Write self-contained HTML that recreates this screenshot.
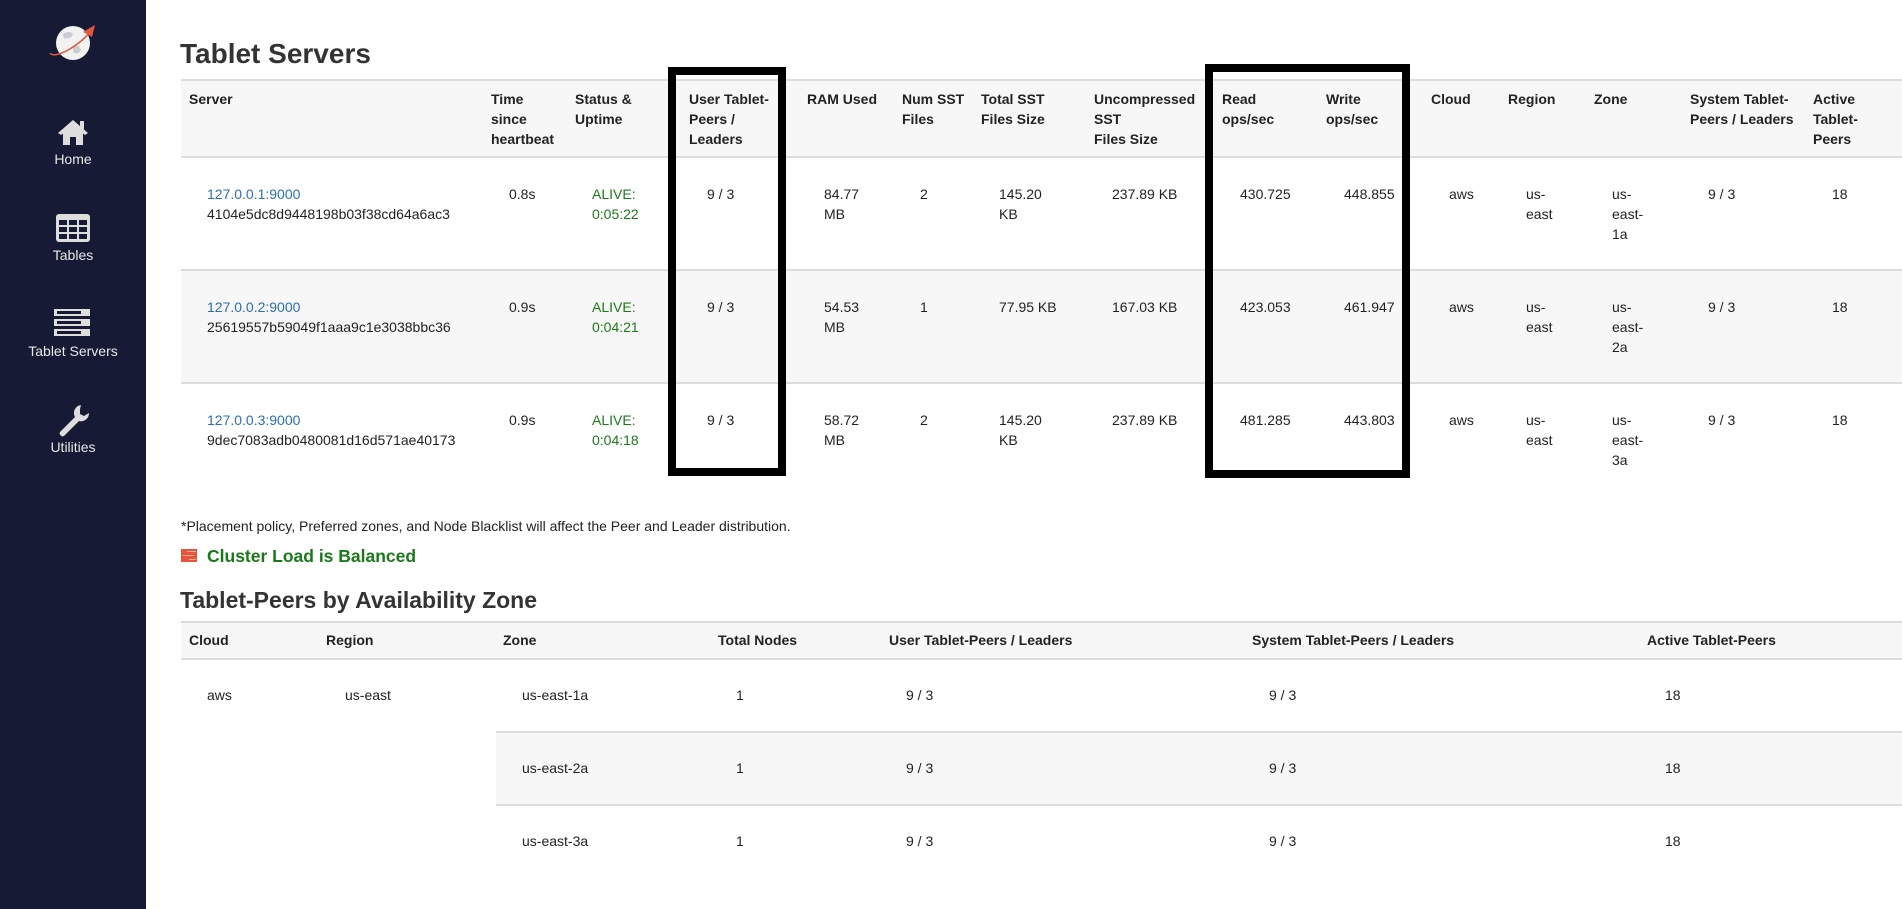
<!DOCTYPE html>
<html><head><meta charset="utf-8">
<style>
*{margin:0;padding:0;box-sizing:border-box}
body{width:1902px;height:909px;overflow:hidden;background:#fff;font-family:"Liberation Sans",Arial,sans-serif;color:#222;position:relative;font-size:14px}
.sb{position:absolute;left:0;top:0;width:146px;height:909px;background:#171a34}
.nl{position:absolute;width:146px;text-align:center;color:#e8e8e8;font-size:14px}
.a{position:absolute;white-space:nowrap;line-height:20px}
.b{font-weight:bold}
.bg{position:absolute;background:#f7f7f7}
.hl{position:absolute;height:2px;background:#ddd}
.lk{color:#2a6fb5}
.gr{color:#1a7a1a}
.box{position:absolute;border:8px solid #000}
</style></head><body>
<div class="sb"></div>
<svg style="position:absolute;left:45px;top:20px" width="56" height="45" viewBox="0 0 56 45">
<circle cx="28" cy="23" r="17" fill="#f2f2f2"/>
<path d="M18 14 q6-4 10 0 q-2 5 -6 4 q-4 2 -4-4z M28 26 q6-2 8 4 q-4 6-8 2z" fill="#c9cdd2"/>
<path d="M5 33 C 10 40 35 25 45 12" stroke="#e4573d" stroke-width="1.5" fill="none"/>
<path d="M38 12 L50 5 L47 17 Z" fill="#e4573d"/>
</svg>
<svg style="position:absolute;left:55px;top:118px" width="36" height="28" viewBox="0 0 36 28"><path d="M18 2 L33 15 L30 17 L28 15.5 V27 H21 V19 H15 V27 H8 V15.5 L6 17 L3 15Z" fill="#ddd"/><rect x="25" y="3" width="4" height="8" fill="#ddd"/></svg>
<div class="nl" style="top:151px">Home</div>
<svg style="position:absolute;left:55px;top:213px" width="36" height="30" viewBox="0 0 36 30"><rect x="1" y="1" width="34" height="28" rx="3" fill="#ddd"/><g fill="#171a34"><rect x="4" y="7" width="8" height="5"/><rect x="14" y="7" width="8" height="5"/><rect x="24" y="7" width="8" height="5"/><rect x="4" y="14" width="8" height="5"/><rect x="14" y="14" width="8" height="5"/><rect x="24" y="14" width="8" height="5"/><rect x="4" y="21" width="8" height="5"/><rect x="14" y="21" width="8" height="5"/><rect x="24" y="21" width="8" height="5"/></g></svg>
<div class="nl" style="top:247px">Tables</div>
<svg style="position:absolute;left:53px;top:308px" width="40" height="30" viewBox="0 0 40 30"><g fill="#ddd"><rect x="1" y="1" width="36" height="7"/><rect x="1" y="11" width="36" height="7"/><rect x="1" y="21" width="36" height="7"/></g><g fill="#171a34"><rect x="4" y="3" width="24" height="3"/><rect x="4" y="13" width="24" height="3"/><rect x="4" y="23" width="24" height="3"/></g></svg>
<div class="nl" style="top:343px">Tablet Servers</div>
<svg style="position:absolute;left:55px;top:403px" width="36" height="36" viewBox="0 0 36 36"><path d="M26 2 a8 8 0 0 0 -6 12 L5 29 a3 3 0 0 0 4 4 L24 18 a8 8 0 0 0 10 -8 l-5 3 l-4 -2 l0 -5z" fill="#ddd"/></svg>
<div class="nl" style="top:439px">Utilities</div>

<div class="a b" style="left:180px;top:35px;font-size:28px;line-height:38px;color:#333">Tablet Servers</div>

<div class="bg" style="left:181px;top:81px;width:1721px;height:76px"></div>
<div class="bg" style="left:181px;top:271px;width:1721px;height:112px"></div>
<div class="hl" style="left:181px;top:79px;width:1721px"></div>
<div class="hl" style="left:181px;top:156px;width:1721px"></div>
<div class="hl" style="left:181px;top:269px;width:1721px"></div>
<div class="hl" style="left:181px;top:382px;width:1721px"></div>

<div class="a b" style="left:189px;top:89px">Server</div>
<div class="a b" style="left:491px;top:89px">Time<br>since<br>heartbeat</div>
<div class="a b" style="left:575px;top:89px">Status &amp;<br>Uptime</div>
<div class="a b" style="left:689px;top:89px">User Tablet-<br>Peers /<br>Leaders</div>
<div class="a b" style="left:807px;top:89px">RAM Used</div>
<div class="a b" style="left:902px;top:89px">Num SST<br>Files</div>
<div class="a b" style="left:981px;top:89px">Total SST<br>Files Size</div>
<div class="a b" style="left:1094px;top:89px">Uncompressed<br>SST<br>Files Size</div>
<div class="a b" style="left:1222px;top:89px">Read<br>ops/sec</div>
<div class="a b" style="left:1326px;top:89px">Write<br>ops/sec</div>
<div class="a b" style="left:1431px;top:89px">Cloud</div>
<div class="a b" style="left:1508px;top:89px">Region</div>
<div class="a b" style="left:1594px;top:89px">Zone</div>
<div class="a b" style="left:1690px;top:89px">System Tablet-<br>Peers / Leaders</div>
<div class="a b" style="left:1813px;top:89px">Active<br>Tablet-<br>Peers</div>

<div class="a" style="left:207px;top:184px"><span class="lk">127.0.0.1:9000</span><br>4104e5dc8d9448198b03f38cd64a6ac3</div>
<div class="a" style="left:509px;top:184px">0.8s</div>
<div class="a gr" style="left:592px;top:184px">ALIVE:<br>0:05:22</div>
<div class="a" style="left:707px;top:184px">9 / 3</div>
<div class="a" style="left:824px;top:184px">84.77<br>MB</div>
<div class="a" style="left:920px;top:184px">2</div>
<div class="a" style="left:999px;top:184px">145.20<br>KB</div>
<div class="a" style="left:1112px;top:184px">237.89 KB</div>
<div class="a" style="left:1240px;top:184px">430.725</div>
<div class="a" style="left:1344px;top:184px">448.855</div>
<div class="a" style="left:1449px;top:184px">aws</div>
<div class="a" style="left:1526px;top:184px">us-<br>east</div>
<div class="a" style="left:1612px;top:184px">us-<br>east-<br>1a</div>
<div class="a" style="left:1708px;top:184px">9 / 3</div>
<div class="a" style="left:1832px;top:184px">18</div>

<div class="a" style="left:207px;top:297px"><span class="lk">127.0.0.2:9000</span><br>25619557b59049f1aaa9c1e3038bbc36</div>
<div class="a" style="left:509px;top:297px">0.9s</div>
<div class="a gr" style="left:592px;top:297px">ALIVE:<br>0:04:21</div>
<div class="a" style="left:707px;top:297px">9 / 3</div>
<div class="a" style="left:824px;top:297px">54.53<br>MB</div>
<div class="a" style="left:920px;top:297px">1</div>
<div class="a" style="left:999px;top:297px">77.95 KB</div>
<div class="a" style="left:1112px;top:297px">167.03 KB</div>
<div class="a" style="left:1240px;top:297px">423.053</div>
<div class="a" style="left:1344px;top:297px">461.947</div>
<div class="a" style="left:1449px;top:297px">aws</div>
<div class="a" style="left:1526px;top:297px">us-<br>east</div>
<div class="a" style="left:1612px;top:297px">us-<br>east-<br>2a</div>
<div class="a" style="left:1708px;top:297px">9 / 3</div>
<div class="a" style="left:1832px;top:297px">18</div>

<div class="a" style="left:207px;top:410px"><span class="lk">127.0.0.3:9000</span><br>9dec7083adb0480081d16d571ae40173</div>
<div class="a" style="left:509px;top:410px">0.9s</div>
<div class="a gr" style="left:592px;top:410px">ALIVE:<br>0:04:18</div>
<div class="a" style="left:707px;top:410px">9 / 3</div>
<div class="a" style="left:824px;top:410px">58.72<br>MB</div>
<div class="a" style="left:920px;top:410px">2</div>
<div class="a" style="left:999px;top:410px">145.20<br>KB</div>
<div class="a" style="left:1112px;top:410px">237.89 KB</div>
<div class="a" style="left:1240px;top:410px">481.285</div>
<div class="a" style="left:1344px;top:410px">443.803</div>
<div class="a" style="left:1449px;top:410px">aws</div>
<div class="a" style="left:1526px;top:410px">us-<br>east</div>
<div class="a" style="left:1612px;top:410px">us-<br>east-<br>3a</div>
<div class="a" style="left:1708px;top:410px">9 / 3</div>
<div class="a" style="left:1832px;top:410px">18</div>

<div class="box" style="left:668px;top:67px;width:118px;height:409px"></div>
<div class="box" style="left:1205px;top:64px;width:205px;height:414px"></div>

<div class="a" style="left:181px;top:516px;font-size:14px">*Placement policy, Preferred zones, and Node Blacklist will affect the Peer and Leader distribution.</div>
<svg style="position:absolute;left:181px;top:549px" width="16" height="13" viewBox="0 0 16 13"><rect width="16" height="13" fill="#e8533a"/><g fill="#f7b5a8"><rect x="6" y="2" width="9" height="1"/><rect x="2" y="6" width="11" height="1"/><rect x="8" y="10" width="7" height="1"/></g></svg>
<div class="a gr b" style="left:207px;top:544px;font-size:17.5px;line-height:24px">Cluster Load is Balanced</div>

<div class="a b" style="left:180px;top:585px;font-size:23px;line-height:30px;color:#333">Tablet-Peers by Availability Zone</div>

<div class="bg" style="left:181px;top:623px;width:1721px;height:36px"></div>
<div class="bg" style="left:496px;top:733px;width:1406px;height:72px"></div>
<div class="hl" style="left:181px;top:621px;width:1721px"></div>
<div class="hl" style="left:181px;top:658px;width:1721px"></div>
<div class="hl" style="left:496px;top:731px;width:1406px"></div>
<div class="hl" style="left:496px;top:804px;width:1406px"></div>

<div class="a b" style="left:189px;top:630px">Cloud</div>
<div class="a b" style="left:326px;top:630px">Region</div>
<div class="a b" style="left:503px;top:630px">Zone</div>
<div class="a b" style="left:718px;top:630px">Total Nodes</div>
<div class="a b" style="left:889px;top:630px">User Tablet-Peers / Leaders</div>
<div class="a b" style="left:1252px;top:630px">System Tablet-Peers / Leaders</div>
<div class="a b" style="left:1647px;top:630px">Active Tablet-Peers</div>

<div class="a" style="left:207px;top:685px">aws</div>
<div class="a" style="left:345px;top:685px">us-east</div>
<div class="a" style="left:522px;top:685px">us-east-1a</div>
<div class="a" style="left:736px;top:685px">1</div>
<div class="a" style="left:906px;top:685px">9 / 3</div>
<div class="a" style="left:1269px;top:685px">9 / 3</div>
<div class="a" style="left:1665px;top:685px">18</div>

<div class="a" style="left:522px;top:758px">us-east-2a</div>
<div class="a" style="left:736px;top:758px">1</div>
<div class="a" style="left:906px;top:758px">9 / 3</div>
<div class="a" style="left:1269px;top:758px">9 / 3</div>
<div class="a" style="left:1665px;top:758px">18</div>

<div class="a" style="left:522px;top:831px">us-east-3a</div>
<div class="a" style="left:736px;top:831px">1</div>
<div class="a" style="left:906px;top:831px">9 / 3</div>
<div class="a" style="left:1269px;top:831px">9 / 3</div>
<div class="a" style="left:1665px;top:831px">18</div>
</body></html>
